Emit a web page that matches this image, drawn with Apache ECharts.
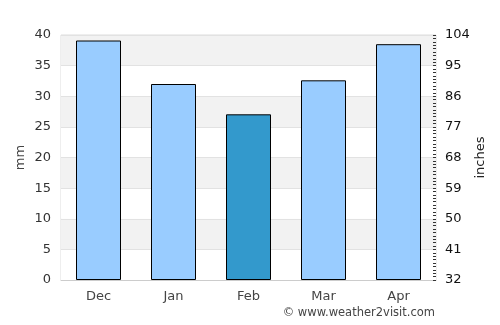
<!DOCTYPE html>
<html>
<head>
<meta charset="utf-8">
<script src="https://cdn.jsdelivr.net/npm/echarts@6/dist/echarts.min.js"></script>
<style>
  html, body { margin: 0; padding: 0; background: #fff; }
  #chart { width: 500px; height: 325px; }
</style>
</head>
<body>
<div id="chart"></div>
<script>
var months = ['Dec', 'Jan', 'Feb', 'Mar', 'Apr'];
var rainMm = [39.1, 32.0, 27.05, 32.6, 38.5];
var highlight = 'Feb';

var myChart = echarts.init(document.getElementById('chart'));

var barData = months.map(function (m, i) {
  return {
    value: rainMm[i],
    itemStyle: { color: m === highlight ? '#3399cc' : '#99ccff' }
  };
});

var option = {
  animation: false,
  grid: { left: 61, right: 64, top: 35, bottom: 45, show: true, borderColor: '#dddddd', borderWidth: 1 },
  xAxis: {
    type: 'category',
    data: months,
    axisLine: { lineStyle: { color: '#cccccc' } },
    axisTick: { show: false },
    axisLabel: { color: '#444444', fontSize: 13, fontFamily: 'DejaVu Sans', margin: 10 }
  },
  yAxis: [{
    type: 'value',
    name: 'mm',
    nameLocation: 'middle',
    nameGap: 34,
    nameMoveOverlap: false,
    nameTextStyle: { color: '#444444', fontSize: 13, fontFamily: 'DejaVu Sans' },
    min: 0, max: 40, interval: 5,
    axisLine: { show: false },
    axisTick: { show: false },
    axisLabel: { color: '#333333', fontSize: 13, fontFamily: 'DejaVu Sans', margin: 10 },
    splitLine: { lineStyle: { color: '#e2e2e2' } },
    splitArea: { show: true, areaStyle: { color: ['#ffffff', '#f2f2f2'] } }
  }, {
    type: 'value',
    name: 'inches',
    nameLocation: 'middle',
    nameGap: 38,
    nameMoveOverlap: false,
    nameTextStyle: { color: '#222222', fontSize: 13, fontFamily: 'DejaVu Sans' },
    min: 32, max: 104, interval: 9,
    position: 'right',
    axisLine: { show: false },
    axisTick: { show: true, inside: true, length: 3, lineStyle: { color: '#333333' } },
    minorTick: { show: true, splitNumber: 9, length: 3, lineStyle: { color: '#333333' } },
    axisLabel: { color: '#111111', fontSize: 13, fontFamily: 'DejaVu Sans', margin: 9 },
    splitLine: { show: false }
  }],
  series: [{
    type: 'bar',
    data: barData,
    barWidth: '60%',
    itemStyle: { borderColor: '#000000', borderWidth: 1 }
  }],
  graphic: [{
    type: 'text',
    right: 65,
    top: 307,
    style: { text: '© www.weather2visit.com', fill: '#444444', font: '11.5px "DejaVu Sans"' }
  }]
};

myChart.setOption(option);
</script>
</body>
</html>
